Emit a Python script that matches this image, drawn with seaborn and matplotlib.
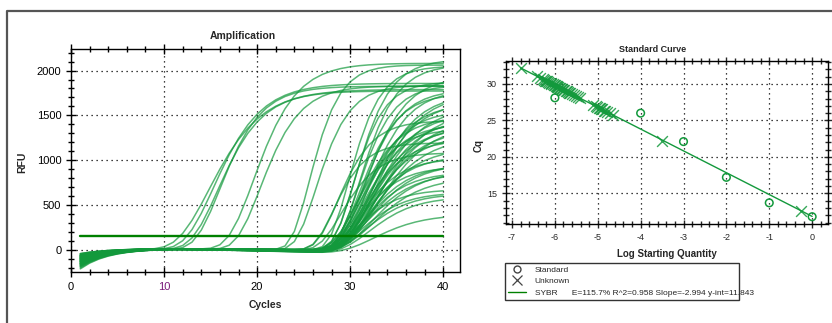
import numpy as np
import pandas as pd
import seaborn as sns
from matplotlib import pyplot as plt
from matplotlib.lines import Line2D
from matplotlib.ticker import MultipleLocator

sns.set_style('white')
plt.rcParams['font.family'] = ['Liberation Sans', 'DejaVu Sans']
plt.rcParams['axes.unicode_minus'] = False

# ---------------- amplification curves (one entry per well) ----------------
# Gompertz-type params: midpoint cycle, slope, plateau RFU,
# RFU at cycle 1 and baseline drift per cycle after cycle 10
amp_mid = [14.8, 15.3, 15.75, 16.0,
           19.6, 20.3,
           25.6, 26.3,
           30.5, 31.0, 29.8, 31.5, 30.2, 30.8, 31.2, 31.8, 32.2, 31.0, 32.5, 32.0,
           31.6, 32.4, 31.2, 32.8, 31.8, 32.2, 30.8, 32.6, 31.4, 32.0, 31.0, 32.9,
           31.7, 32.3, 30.6, 31.9, 32.5, 31.3, 32.1, 31.5, 31.0, 32.0, 31.6, 30.9,
           32.3, 31.4, 31.8, 32.4, 30.7, 31.2, 31.6, 32.0, 32.5, 28.6, 28.2, 29.0]
amp_slope = [3.3, 3.0, 2.8, 2.6,
             2.7, 2.5,
             1.9, 2.1,
             2.2, 2.3, 2.0, 2.6, 2.0, 2.2, 2.5, 2.6, 2.8, 2.4, 2.9, 3.0,
             2.8, 3.1, 2.7, 3.2, 3.0, 3.0, 2.6, 3.2, 2.9, 3.1, 2.6, 3.3,
             2.8, 3.0, 2.5, 3.1, 3.3, 2.7, 3.0, 2.8, 2.6, 3.0, 2.9, 2.6,
             3.1, 2.8, 3.0, 3.2, 2.6, 2.8, 2.9, 3.0, 3.3, 2.2, 2.0, 2.3]
amp_plateau = [1780, 1850, 1760, 1820,
               2080, 1830,
               2070, 1850,
               2130, 2090, 2060, 1980, 1890, 1870, 1840, 1830, 1800, 1760, 1780, 1720,
               1650, 1640, 1600, 1620, 1560, 1520, 1500, 1520, 1470, 1450, 1420, 1480,
               1390, 1380, 1360, 1340, 1330, 1250, 1180, 1080, 1030, 1010, 980, 960,
               940, 910, 880, 850, 700, 690, 670, 660, 470, 1450, 1200, 1100]
amp_start = [-60, -90, -120, -150,
             -80, -110,
             -70, -130,
             -40, -55, -70, -85, -100, -115, -130, -150, -170, -200, -60, -90,
             -45, -75, -105, -135, -165, -50, -80, -110, -140, -185, -65, -95,
             -125, -155, -210, -55, -85, -115, -145, -175, -40, -70, -100, -130,
             -160, -190, -60, -90, -120, -150, -180, -75, -105, -135, -165, -95]
amp_drift = [-0.2, -0.3, -0.1, -0.4,
             -0.5, -0.6,
             -0.8, -1.0,
             -0.6, -1.2, -0.8, -1.8, -1.0, -1.4, -2.0, -1.6, -2.2, -0.9, -1.5, -1.9,
             -0.7, -1.3, -1.7, -2.1, -1.1, -1.6, -0.9, -2.0, -1.4, -1.8, -0.8, -2.3,
             -1.2, -1.5, -0.7, -1.9, -2.2, -1.0, -1.6, -1.3, -0.6, -1.8, -1.1, -1.4,
             -2.0, -1.7, -0.9, -1.5, -1.2, -1.9, -1.6, -2.4, -2.5, -0.8, -0.7, -1.0]
threshold = 160
cycles = np.arange(1, 41)

# ---------------- standard curve ----------------
std_logq = [-6, -4, -3, -2, -1, 0]
std_cq = [28.1, 26.0, 22.1, 17.2, 13.7, 11.8]
unk_logq = [-6.8, -6.42, -6.35, -6.28, -6.25, -6.22, -6.20, -6.18, -6.15, -6.13, -6.10,
            -6.08, -6.05, -6.03, -6.00, -5.98, -5.96, -5.94, -5.92, -5.90, -5.88, -5.85,
            -5.83, -5.80, -5.78, -5.75, -5.72, -5.70, -5.67, -5.64, -5.60, -5.55, -5.50,
            -5.45, -5.42, -5.10, -5.05, -5.02, -4.98, -4.95, -4.92, -4.90, -4.85, -4.82,
            -4.78, -4.72, -4.65, -3.5, -0.25]
unk_cq = [32.2, 31.06, 30.85, 30.65, 30.56, 30.47, 30.41, 30.35, 30.26, 30.20, 30.11,
          30.05, 29.96, 29.90, 29.81, 29.75, 29.69, 29.63, 29.57, 29.51, 29.45, 29.36,
          29.30, 29.21, 29.15, 29.06, 28.97, 28.91, 28.82, 28.73, 28.61, 28.46, 28.31,
          28.16, 28.07, 27.11, 26.96, 26.87, 26.75, 26.66, 26.57, 26.51, 26.36, 26.27,
          26.15, 25.97, 25.76, 22.2, 12.6]
fit_slope = -2.994
fit_int = 11.843
fit_range = [-6.8, 0.0]

green = '#13993c'
dark_green = '#008000'

rows = []
for w in range(len(amp_mid)):
    base = (amp_start[w] - 15) * np.exp(-(cycles - 1) / 3.0) + 15 \
        + amp_drift[w] * np.clip(cycles - 10, 0, None)
    amp = amp_plateau[w] * np.exp(-np.exp(-(cycles - amp_mid[w]) / amp_slope[w]))
    for c, v in zip(cycles, base + amp):
        rows.append((w, c, v))
amp_df = pd.DataFrame(rows, columns=['well', 'cycle', 'rfu'])

W, H = 832, 323
def rect(l, t, r, b):
    return [l / W, 1 - b / H, (r - l) / W, (b - t) / H]

fig = plt.figure(figsize=(W / 100, H / 100), dpi=100)
ax1 = fig.add_axes(rect(71, 49, 460, 272))
ax2 = fig.add_axes(rect(506, 61, 828, 224))

# outer frame (top + left)
fig.add_artist(Line2D([7.5 / W, 7.5 / W, 1], [0, 1 - 10.5 / H, 1 - 10.5 / H],
                      transform=fig.transFigure, color='#555555', lw=1.6))

dots = dict(color='black', linestyle=(0, (1, 3)), linewidth=0.9)

# ---- Amplification ----
sns.lineplot(data=amp_df, x='cycle', y='rfu', units='well', estimator=None,
             color=green, alpha=0.7, lw=1.1, ax=ax1, legend=False)
ax1.plot([1, 40], [threshold, threshold], color=dark_green, lw=1.7)
ax1.set_xlim(0, 41.8)
ax1.set_ylim(-245, 2240)
ax1.set_xticks([0, 10, 20, 30, 40])
ax1.set_yticks([0, 500, 1000, 1500, 2000])
ax1.xaxis.set_minor_locator(MultipleLocator(2))
ax1.yaxis.set_minor_locator(MultipleLocator(100))
ax1.tick_params(which='both', direction='inout', bottom=True, left=True, top=True,
                right=False, labelsize=8, colors='black', width=1)
ax1.tick_params(which='major', length=7)
ax1.tick_params(which='minor', length=5)
ax1.grid(True, which='major', **dots)
ax1.set_xlabel('')
ax1.set_ylabel('')
for s in ax1.spines.values():
    s.set_color('black')
    s.set_linewidth(1)
ax1.get_xticklabels()[1].set_color('#7a1a7a')

# ---- Standard curve ----
fit_y = [fit_slope * x + fit_int for x in fit_range]
sns.lineplot(x=fit_range, y=fit_y, color=green, lw=1.0, ax=ax2)
sns.scatterplot(x=unk_logq, y=unk_cq, marker='x', s=60, color=green,
                linewidth=1.0, alpha=0.85, ax=ax2)
sns.scatterplot(x=std_logq, y=std_cq, marker='o', s=30, facecolors='none',
                edgecolor=green, linewidth=1.1, ax=ax2)
ax2.set_xlim(-7.14, 0.37)
ax2.set_ylim(10.8, 33.15)
ax2.set_xticks(range(-7, 1))
ax2.set_yticks([15, 20, 25, 30])
ax2.xaxis.set_minor_locator(MultipleLocator(0.2))
ax2.yaxis.set_minor_locator(MultipleLocator(1))
ax2.tick_params(which='both', direction='inout', bottom=True, left=True, top=True,
                right=True, labelsize=6.5, width=1)
ax2.tick_params(which='major', length=6)
ax2.tick_params(which='minor', length=4)
ax2.grid(True, which='major', **dots)
for s in ax2.spines.values():
    s.set_color('black')
    s.set_linewidth(1)

# ---- texts ----
fig.text(243 / W, 1 - 36 / H, 'Amplification', ha='center', va='center',
         fontsize=7.5, fontweight='bold')
fig.text(265 / W, 1 - 305 / H, 'Cycles', ha='center', va='center',
         fontsize=7.5, fontweight='bold')
fig.text(22 / W, 1 - 162 / H, 'RFU', ha='center', va='center', rotation=90,
         fontsize=7.5, fontweight='bold')
fig.text(653 / W, 1 - 49 / H, 'Standard Curve', ha='center', va='center',
         fontsize=6.5, fontweight='bold')
fig.text(667 / W, 1 - 254 / H, 'Log Starting Quantity', ha='center', va='center',
         fontsize=7, fontweight='bold')
fig.text(479 / W, 1 - 145 / H, 'Cq', ha='center', va='center', rotation=90,
         fontsize=7, fontweight='bold')

handles = [Line2D([], [], marker='o', mfc='none', mec='#444444', ls='none', ms=5),
           Line2D([], [], marker='x', color='#444444', ls='none', ms=7, mew=0.9),
           Line2D([], [], color=dark_green, lw=1)]
labels = ['Standard', 'Unknown',
          'SYBR      E=115.7% R^2=0.958 Slope=-2.994 y-int=11.843']
leg = fig.legend(handles, labels, loc='upper left',
                 bbox_to_anchor=(505 / W, 1 - 303 / H, (739 - 505) / W, 40 / H),
                 mode='expand', fontsize=6, frameon=True, fancybox=False,
                 edgecolor='black', borderaxespad=0, handlelength=2.2,
                 labelspacing=0.45, borderpad=0.35, handletextpad=1.0)
leg.get_frame().set_linewidth(1)

fig.savefig('out.png', dpi=100)
